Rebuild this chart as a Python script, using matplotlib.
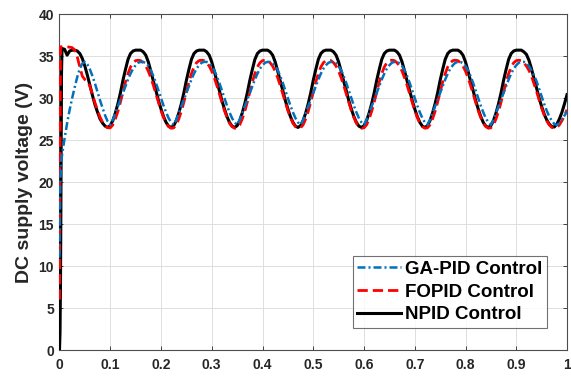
import numpy as np
import matplotlib
matplotlib.use("Agg")
import matplotlib.pyplot as plt

# time axis (s): fine steps at the start, then every 5 ms
t = np.concatenate([[0, 0.001, 0.002, 0.003, 0.004], np.arange(1, 201) * 0.005])

# DC supply voltage (V)
ga_pid = [11.0, 18.5, 20.5, 21.8, 22.8,
          23.2, 25.2, 27.0, 28.6, 30.0, 31.3, 32.5, 33.5, 34.1, 34.3, 34.0, 33.4, 32.6, 31.7, 30.7, 29.7, 28.8, 27.9, 27.2,
          26.8, 27.4, 28.2, 29.0, 29.8, 30.6, 31.4, 32.2, 32.9, 33.5, 33.9, 34.2, 34.3, 34.3, 34.15, 33.8, 33.3, 32.6, 31.8, 30.9, 30.0, 29.1, 28.3, 27.6, 27.1,
          26.8, 27.4, 28.2, 29.0, 29.8, 30.6, 31.4, 32.2, 32.9, 33.5, 33.9, 34.2, 34.3, 34.3, 34.15, 33.8, 33.3, 32.6, 31.8, 30.9, 30.0, 29.1, 28.3, 27.6, 27.1,
          26.8, 27.4, 28.2, 29.0, 29.8, 30.6, 31.4, 32.2, 32.9, 33.5, 33.9, 34.2, 34.3, 34.3, 34.15, 33.8, 33.3, 32.6, 31.8, 30.9, 30.0, 29.1, 28.3, 27.6, 27.1,
          26.8, 27.4, 28.2, 29.0, 29.8, 30.6, 31.4, 32.2, 32.9, 33.5, 33.9, 34.2, 34.3, 34.3, 34.15, 33.8, 33.3, 32.6, 31.8, 30.9, 30.0, 29.1, 28.3, 27.6, 27.1,
          26.8, 27.4, 28.2, 29.0, 29.8, 30.6, 31.4, 32.2, 32.9, 33.5, 33.9, 34.2, 34.3, 34.3, 34.15, 33.8, 33.3, 32.6, 31.8, 30.9, 30.0, 29.1, 28.3, 27.6, 27.1,
          26.8, 27.4, 28.2, 29.0, 29.8, 30.6, 31.4, 32.2, 32.9, 33.5, 33.9, 34.2, 34.3, 34.3, 34.15, 33.8, 33.3, 32.6, 31.8, 30.9, 30.0, 29.1, 28.3, 27.6, 27.1,
          26.8, 27.4, 28.2, 29.0, 29.8, 30.6, 31.4, 32.2, 32.9, 33.5, 33.9, 34.2, 34.3, 34.3, 34.15, 33.8, 33.3, 32.7, 32.0, 31.1, 30.2, 29.3, 28.5, 27.8, 27.3,
          26.9, 26.8, 27.0, 27.4, 27.9, 28.4]

fopid = [6.0, 20.0, 36.1, 36.1, 36.1,
         36.1, 36.1, 36.1, 36.05, 36.0, 35.7, 34.9, 33.7, 32.6, 32.2, 32.0, 31.4, 30.4, 29.4, 28.5, 27.7, 27.1, 26.7, 26.45,
         26.45, 26.8, 27.5, 28.4, 29.5, 30.7, 31.9, 32.9, 33.7, 34.2, 34.45, 34.5, 34.45, 34.2, 33.8, 33.2, 32.4, 31.5, 30.5, 29.5, 28.5, 27.7, 27.0, 26.6, 26.4,
         26.45, 26.8, 27.5, 28.4, 29.5, 30.7, 31.9, 32.9, 33.7, 34.2, 34.45, 34.5, 34.45, 34.2, 33.8, 33.2, 32.4, 31.5, 30.5, 29.5, 28.5, 27.7, 27.0, 26.6, 26.4,
         26.45, 26.8, 27.5, 28.4, 29.5, 30.7, 31.9, 32.9, 33.7, 34.2, 34.45, 34.5, 34.45, 34.2, 33.8, 33.2, 32.4, 31.5, 30.5, 29.5, 28.5, 27.7, 27.0, 26.6, 26.4,
         26.45, 26.8, 27.5, 28.4, 29.5, 30.7, 31.9, 32.9, 33.7, 34.2, 34.45, 34.5, 34.45, 34.2, 33.8, 33.2, 32.4, 31.5, 30.5, 29.5, 28.5, 27.7, 27.0, 26.6, 26.4,
         26.45, 26.8, 27.5, 28.4, 29.5, 30.7, 31.9, 32.9, 33.7, 34.2, 34.45, 34.5, 34.45, 34.2, 33.8, 33.2, 32.4, 31.5, 30.5, 29.5, 28.5, 27.7, 27.0, 26.6, 26.4,
         26.45, 26.8, 27.5, 28.4, 29.5, 30.7, 31.9, 32.9, 33.7, 34.2, 34.45, 34.5, 34.45, 34.2, 33.8, 33.2, 32.4, 31.5, 30.5, 29.5, 28.5, 27.7, 27.0, 26.6, 26.4,
         26.45, 26.8, 27.5, 28.4, 29.5, 30.7, 31.9, 32.9, 33.7, 34.2, 34.45, 34.5, 34.45, 34.2, 33.8, 33.3, 32.6, 31.7, 30.8, 29.8, 28.8, 28.0, 27.3, 26.8, 26.5,
         26.4, 26.5, 26.8, 27.3, 27.9, 28.6]

npid = [0.0, 2.0, 8.0, 20.0, 33.0,
        35.9, 35.8, 35.1, 35.6, 35.7, 35.7, 35.6, 35.3, 34.7, 33.8, 32.7, 31.5, 30.3, 29.2, 28.3, 27.5, 27.0, 26.65, 26.5,
        26.7, 27.3, 28.2, 29.3, 30.6, 32.1, 33.4, 34.6, 35.3, 35.6, 35.7, 35.7, 35.7, 35.5, 35.1, 34.3, 33.2, 32.0, 30.9, 29.7, 28.7, 27.8, 27.1, 26.65, 26.5,
        26.7, 27.3, 28.2, 29.3, 30.6, 32.1, 33.4, 34.6, 35.3, 35.6, 35.7, 35.7, 35.7, 35.5, 35.1, 34.3, 33.2, 32.0, 30.9, 29.7, 28.7, 27.8, 27.1, 26.65, 26.5,
        26.7, 27.3, 28.2, 29.3, 30.6, 32.1, 33.4, 34.6, 35.3, 35.6, 35.7, 35.7, 35.7, 35.5, 35.1, 34.3, 33.2, 32.0, 30.9, 29.7, 28.7, 27.8, 27.1, 26.65, 26.5,
        26.7, 27.3, 28.2, 29.3, 30.6, 32.1, 33.4, 34.6, 35.3, 35.6, 35.7, 35.7, 35.7, 35.5, 35.1, 34.3, 33.2, 32.0, 30.9, 29.7, 28.7, 27.8, 27.1, 26.65, 26.5,
        26.7, 27.3, 28.2, 29.3, 30.6, 32.1, 33.4, 34.6, 35.3, 35.6, 35.7, 35.7, 35.7, 35.5, 35.1, 34.3, 33.2, 32.0, 30.9, 29.7, 28.7, 27.8, 27.1, 26.65, 26.5,
        26.7, 27.3, 28.2, 29.3, 30.6, 32.1, 33.4, 34.6, 35.3, 35.6, 35.7, 35.7, 35.7, 35.5, 35.1, 34.3, 33.2, 32.0, 30.9, 29.7, 28.7, 27.8, 27.1, 26.65, 26.5,
        26.7, 27.3, 28.2, 29.3, 30.6, 32.1, 33.4, 34.6, 35.3, 35.6, 35.7, 35.7, 35.7, 35.5, 35.2, 34.5, 33.5, 32.3, 31.2, 30.0, 29.0, 28.1, 27.4, 26.9, 26.6,
        26.55, 26.9, 27.5, 28.3, 29.3, 30.4]

x_ticks = [0, 0.1, 0.2, 0.3, 0.4, 0.5, 0.6, 0.7, 0.8, 0.9, 1]
x_labels = ["0", "0.1", "0.2", "0.3", "0.4", "0.5", "0.6", "0.7", "0.8", "0.9", "1"]
y_ticks = [0, 5, 10, 15, 20, 25, 30, 35, 40]

plt.rcParams['font.family'] = ['Liberation Sans', 'DejaVu Sans']
plt.rcParams['font.weight'] = 'bold'

fig = plt.figure(figsize=(5.71, 3.76), dpi=100)
ax = fig.add_axes([0.1042, 0.0691, 0.8888, 0.8936])

# black first so the dashed curves sit on top of it
l3, = ax.plot(t, npid, color='black', lw=2.2, label='NPID Control', zorder=3)
l2, = ax.plot(t, fopid, color='#FF0000', lw=2.0, dashes=(3.7, 1.8), label='FOPID Control', zorder=4)
l1, = ax.plot(t, ga_pid, color='#0072BD', lw=1.8, dashes=(3.2, 1.2, 0.8, 1.2), label='GA-PID Control', zorder=5)

ax.set_xlim(0, 1)
ax.set_ylim(0, 40)
ax.set_xticks(x_ticks)
ax.set_xticklabels(x_labels)
ax.set_yticks(y_ticks)
ax.tick_params(direction='in', length=3, width=0.6, labelsize=10, colors='#262626',
               top=True, right=True)
ax.tick_params(axis='x', pad=5.5)
ax.tick_params(axis='y', pad=4)
for lab in ax.get_xticklabels() + ax.get_yticklabels():
    lab.set_fontweight('bold')
ax.grid(True, color='#DEDEDE', lw=0.7)
ax.set_axisbelow(True)
for s in ax.spines.values():
    s.set_color('#4D4D4D')
    s.set_linewidth(0.8)

ax.set_ylabel('DC supply voltage (V)', fontsize=14, fontweight='bold', color='#262626', labelpad=4)

leg = ax.legend(handles=[l1, l2, l3], loc='lower right', bbox_to_anchor=(0.961, 0.065),
                prop={'size': 13.5, 'weight': 'bold'}, frameon=True, fancybox=False,
                handlelength=2.35, handletextpad=0.2, borderpad=0.25, labelspacing=0.3,
                borderaxespad=0)
leg.get_frame().set_edgecolor('#4D4D4D')
leg.get_frame().set_linewidth(0.8)

fig.savefig('out.png', dpi=100)
